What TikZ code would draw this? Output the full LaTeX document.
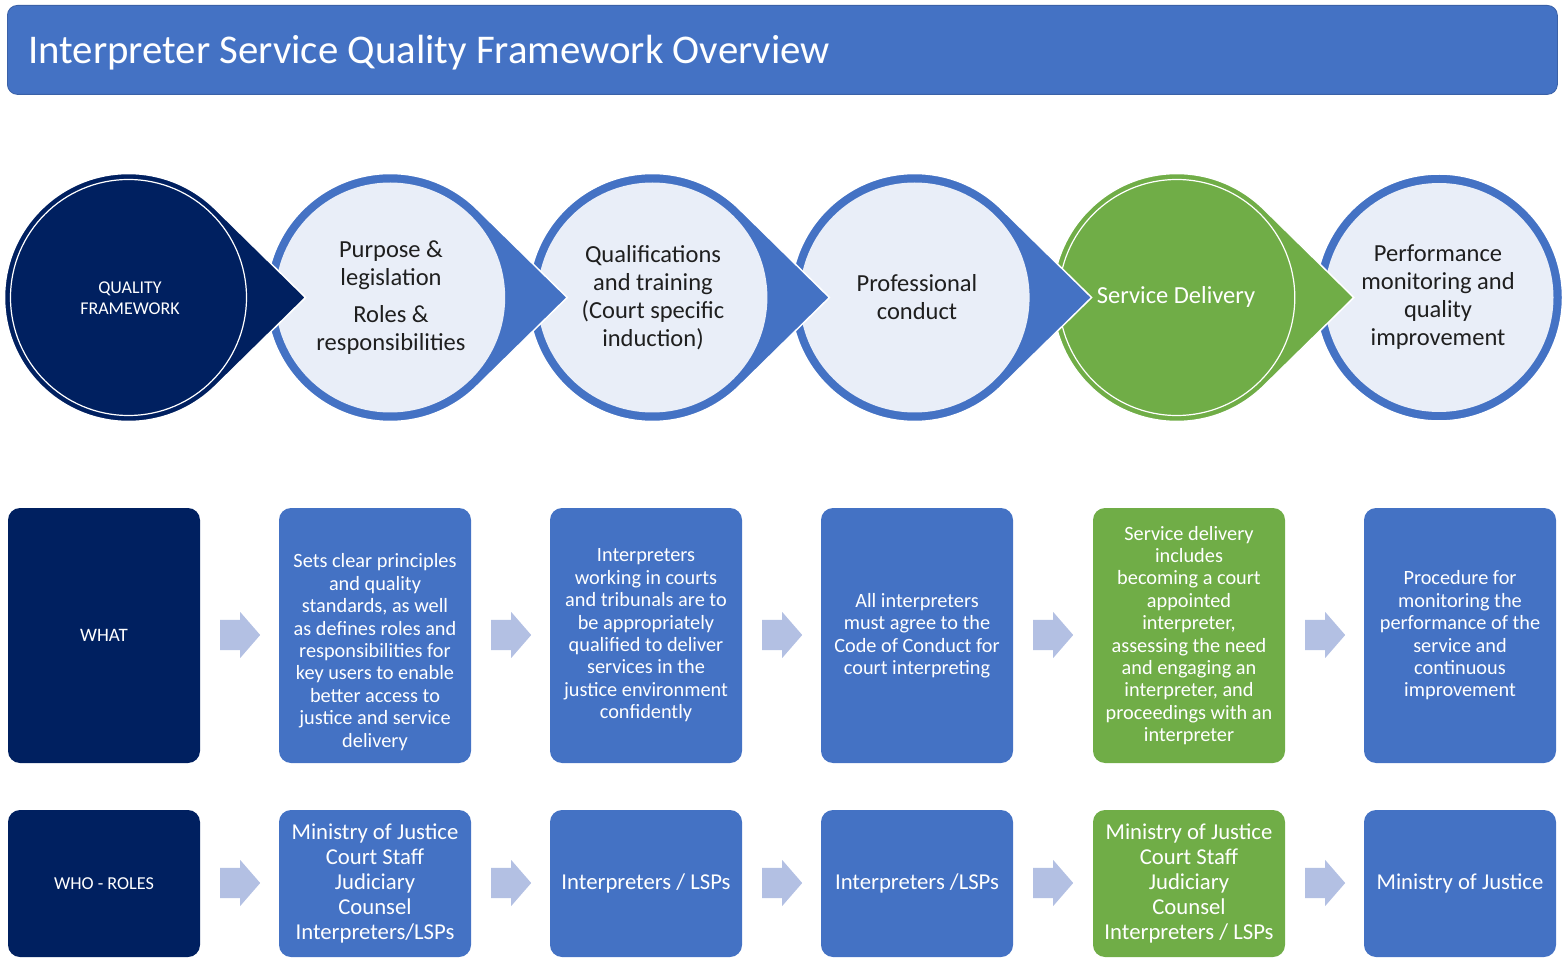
\documentclass[tikz,border=0pt]{standalone}
\usepackage{fontspec}
\setmainfont{Carlito}
\usetikzlibrary{shapes.arrows}
\definecolor{navy}{HTML}{002060}
\definecolor{mblue}{HTML}{4472C4}
\definecolor{mgreen}{HTML}{70AD47}
\definecolor{lightfill}{HTML}{E9EEF8}
\definecolor{arrowc}{HTML}{B3C0E3}
\definecolor{ctext}{HTML}{1F1F1F}
\newcommand\tdrop[2]{%
  \fill[#2, draw=white, line width=1.5pt] (#1,297.5) ++(45:124)
    arc[start angle=45, end angle=315, radius=124] -- (#1+177,297.5) -- cycle;}
\begin{document}
\begin{tikzpicture}[x=1pt, y=-1pt,
  ctxt/.style={align=center, text=ctext, inner sep=0, font=\fontsize{24.5}{28}\selectfont},
  box/.style={rounded corners=12pt, minimum width=192pt, text=white, align=center, inner sep=0},
  rowa/.style={box, minimum height=255pt, font=\fontsize{20.3}{22.4}\selectfont},
  rowb/.style={box, minimum height=147pt, font=\fontsize{22.7}{25}\selectfont},
  barrow/.style={single arrow, fill=arrowc, inner xsep=0pt, inner ysep=15pt, text width=0pt,
    text height=0pt, text depth=0pt, minimum height=40pt, single arrow head extend=8pt,
    single arrow tip angle=98, anchor=tail}
]
\useasboundingbox (0,0) rectangle (1564,965);

% title
\node[fill=mblue, draw=mblue!85!black, line width=0.8pt, rounded corners=10pt, minimum width=1550pt,
  minimum height=89pt, anchor=north west, inner sep=0] (title) at (7,5) {};
\node[anchor=base west, text=white, inner sep=0, font=\fontsize{40.8}{48}\selectfont] (titletext)
  at (28,64) {Interpreter Service Quality Framework Overview};

% circles (drawn last-to-first so that each point lies over the next circle)
\fill[mblue, draw=white, line width=1.5pt] (1439,297.5) circle[radius=123.5];
\fill[lightfill] (1439,297.5) circle[radius=114.5];
\tdrop{1176.8}{mgreen}
\draw[white, line width=1.2pt] (1176.8,297.5) circle[radius=118];
\tdrop{914.6}{mblue}
\fill[lightfill] (914.6,297.5) circle[radius=115];
\tdrop{652.4}{mblue}
\fill[lightfill] (652.4,297.5) circle[radius=115];
\tdrop{390.2}{mblue}
\fill[lightfill] (390.2,297.5) circle[radius=115];
\tdrop{128.5}{navy}
\draw[white, line width=1.2pt] (128.5,297.5) circle[radius=118];

\node[align=center, text=white, inner sep=0, font=\fontsize{18}{21}\selectfont] (c1) at (130,298) {QUALITY\\FRAMEWORK};
\node[ctxt] (c2) at (391,298) {Purpose \&\\legislation\\[9pt]Roles \&\\responsibilities};
\node[ctxt] (c3) at (653,297.5) {Qualifications\\and training\\(Court specific\\induction)};
\node[ctxt] (c4) at (917,297.5) {Professional\\conduct};
\node[ctxt, text=white] (c5) at (1176,297) {Service Delivery};
\node[ctxt] (c6) at (1438,297.5) {Performance\\monitoring and\\quality\\improvement};

% WHAT row
\node[rowa, fill=navy, font=\fontsize{19}{22}\selectfont] (w1) at (104,635.5) {WHAT};
\node[rowa, fill=mblue] (w2) at (375,635.5) {};
\node[align=center, text=white, inner sep=0, font=\fontsize{20.3}{22.4}\selectfont] (w2t) at (375,652)
  {Sets clear principles\\and quality\\standards, as well\\as defines roles and\\responsibilities for\\key users to enable\\better access to\\justice and service\\delivery};
\node[rowa, fill=mblue] (w3) at (646,635.5) {Interpreters\\working in courts\\and tribunals are to\\be appropriately\\qualified to deliver\\services in the\\justice environment\\confidently};
\node[rowa, fill=mblue] (w4) at (917,635.5) {All interpreters\\must agree to the\\Code of Conduct for\\court interpreting};
\node[rowa, fill=mgreen] (w5) at (1189,635.5) {Service delivery\\includes\\becoming a court\\appointed\\interpreter,\\assessing the need\\and engaging an\\interpreter, and\\proceedings with an\\interpreter};
\node[rowa, fill=mblue] (w6) at (1460,635.5) {Procedure for\\monitoring the\\performance of the\\service and\\continuous\\improvement};

% WHO row
\node[rowb, fill=navy, font=\fontsize{18.2}{21}\selectfont] (r1) at (104,883.5) {WHO - ROLES};
\node[rowb, fill=mblue] (r2) at (375,883.5) {Ministry of Justice\\Court Staff\\Judiciary\\Counsel\\Interpreters/LSPs};
\node[rowb, fill=mblue] (r3) at (646,883.5) {Interpreters / LSPs};
\node[rowb, fill=mblue] (r4) at (917,883.5) {Interpreters /LSPs};
\node[rowb, fill=mgreen] (r5) at (1189,883.5) {Ministry of Justice\\Court Staff\\Judiciary\\Counsel\\Interpreters / LSPs};
\node[rowb, fill=mblue] (r6) at (1460,883.5) {Ministry of Justice};

% block arrows
\foreach \i/\x in {1/220,2/491,3/762,4/1033,5/1305}{
  \node[barrow] (wa\i) at (\x,635) {};
  \node[barrow] (ra\i) at (\x,883) {};
}
\end{tikzpicture}
\end{document}
